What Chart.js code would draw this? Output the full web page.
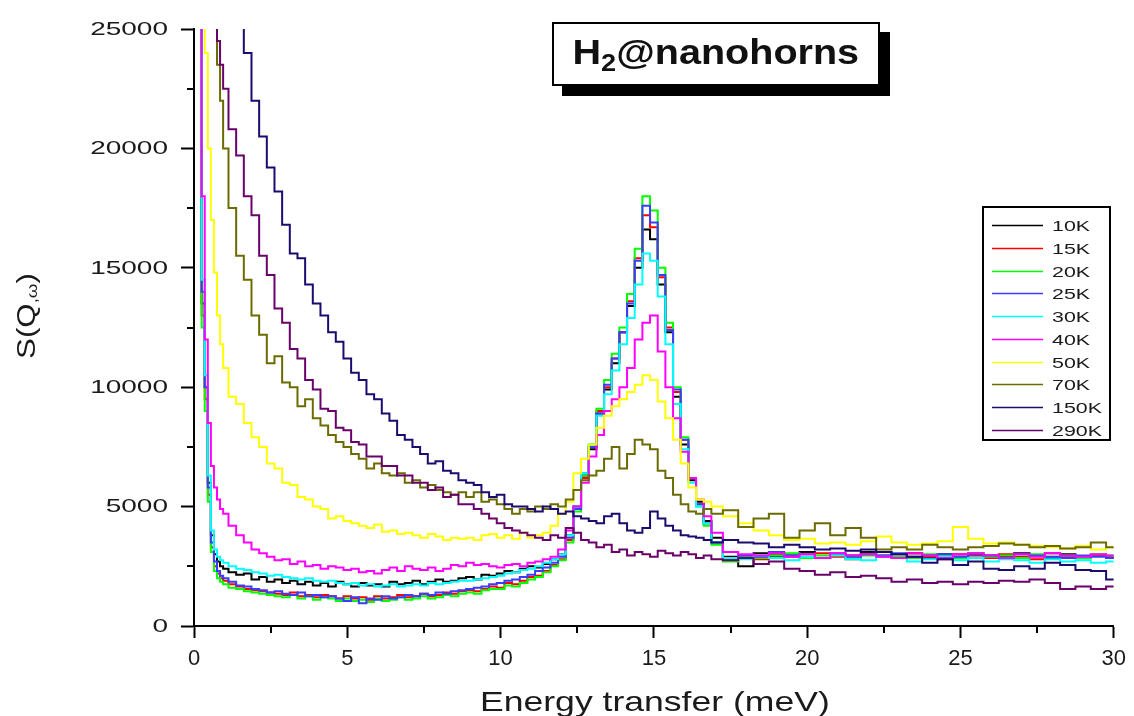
<!DOCTYPE html>
<html>
<head>
<meta charset="utf-8">
<script src="https://cdn.jsdelivr.net/npm/chart.js@4"></script>
<style>
  html, body { margin: 0; padding: 0; background: #fff; }
  #wrap { position: relative; width: 1134px; height: 716px; }
  #tag {
    position: absolute; left: 552px; top: 22px; width: 324px; height: 56px;
    border: 2px solid #000; background: #fff; box-shadow: 10px 10px 0 #000;
    display: flex; align-items: center; justify-content: center; padding-bottom: 4px; box-sizing: content-box;
    font: bold 35px "Liberation Sans", Arial, sans-serif; color: #111;
  }
  #tag span { display: inline-block; transform: scaleX(1.13); }
  #tag sub { font-size: 24px; vertical-align: -7px; line-height: 0; }
</style>
</head>
<body>
<div id="wrap">
  <canvas id="c" width="1134" height="716"></canvas>
  <div id="tag"><span>H<sub>2</sub>@nanohorns</span></div>
</div>
<script>
// energy transfer (meV), shared by all runs
const energy = [0.2, 0.3, 0.4, 0.5, 0.6, 0.7, 0.8, 0.9,
  1, 1.25, 1.5, 1.75, 2, 2.25, 2.5, 2.75, 3, 3.25, 3.5, 3.75, 4, 4.25, 4.5, 4.75,
  5, 5.25, 5.5, 5.75, 6, 6.25, 6.5, 6.75, 7, 7.25, 7.5, 7.75, 8, 8.25, 8.5, 8.75,
  9, 9.25, 9.5, 9.75, 10, 10.25, 10.5, 10.75, 11, 11.25, 11.5, 11.75, 12, 12.25, 12.5, 12.75,
  13, 13.25, 13.5, 13.75, 14, 14.25, 14.5, 14.75, 15, 15.25, 15.5, 15.75, 16, 16.25, 16.5, 16.75,
  17, 17.5, 18, 18.5, 19, 19.5, 20, 20.5, 21, 21.5, 22, 22.5, 23, 23.5, 24, 24.5, 25, 25.5, 26, 26.5, 27, 27.5, 28, 28.5, 29, 29.5, 30];

const s10K = [32000, 13500, 10000, 6000, 3800, 3000, 2700, 2500,
  2400, 2250, 2150, 2200, 1950, 2050, 1850, 1950, 1800, 1900, 1750, 1850, 1700, 1800, 1650, 1850,
  1750, 1650, 1800, 1700, 1750, 1650, 1850, 1750, 1800, 1900, 1750, 1850, 1950, 1850, 1900, 2000,
  2050, 1950, 2150, 2100, 2200, 2300, 2250, 2400, 2500, 2450, 2600, 2800, 3000, 3800, 5000, 6300,
  7400, 8900, 9900, 11000, 12300, 13400, 15000, 16600, 16200, 14300, 12300, 9600, 7600, 6100, 5200, 4400,
  3700, 2900, 2500, 3050, 2900, 2950, 3100, 2850, 3000, 2950, 3100, 2900, 3000, 3050, 2850, 3000, 2900, 3050, 2950, 2900, 3050, 2950, 2850, 3000, 2900, 2950, 2850];
const s15K = [32000, 13000, 9500, 5500, 3300, 2500, 2200, 2000,
  1900, 1750, 1650, 1550, 1500, 1450, 1400, 1350, 1300, 1400, 1250, 1300, 1200, 1300, 1250, 1150,
  1250, 1150, 1200, 1100, 1250, 1150, 1200, 1300, 1200, 1250, 1350, 1250, 1300, 1400, 1350, 1450,
  1500, 1450, 1550, 1650, 1600, 1800, 1750, 1900, 2050, 2100, 2300, 2550, 2800, 3600, 4900, 6200,
  7500, 9000, 10000, 11200, 12300, 13600, 15400, 17200, 16700, 14600, 12500, 9800, 7800, 6200, 5100, 4300,
  3500, 2750, 2950, 2800, 3000, 2900, 2850, 3050, 2900, 2800, 3000, 2950, 2850, 3050, 2900, 2800, 3000, 2950, 2850, 3000, 2900, 2800, 3050, 2900, 2850, 2950, 2900];
const s20K = [30000, 12500, 9000, 5200, 3100, 2300, 2000, 1850,
  1750, 1600, 1550, 1450, 1400, 1350, 1300, 1250, 1200, 1300, 1150, 1250, 1100, 1200, 1150, 1050,
  1150, 1050, 1100, 1000, 1150, 1050, 1100, 1200, 1100, 1150, 1250, 1150, 1200, 1300, 1250, 1350,
  1400, 1350, 1500, 1550, 1550, 1700, 1650, 1800, 1950, 2050, 2250, 2500, 2750, 3500, 4800, 6300,
  7600, 9100, 10300, 11400, 12500, 13900, 15800, 18000, 17400, 15000, 12700, 10000, 7900, 6200, 5000, 4200,
  3400, 2700, 2900, 2850, 2950, 3050, 2850, 2950, 3000, 2850, 2950, 3100, 2900, 2850, 3000, 2950, 2850, 3050, 2900, 2950, 2850, 3000, 2900, 2950, 2850, 3000, 2950];
const s25K = [31000, 14000, 10000, 5800, 3500, 2700, 2300, 2100,
  2000, 1850, 1700, 1650, 1550, 1500, 1400, 1450, 1350, 1300, 1400, 1250, 1300, 1200, 1250, 1150,
  1050, 1200, 950, 1150, 1100, 1250, 1150, 1200, 1300, 1250, 1350, 1300, 1400, 1350, 1450, 1500,
  1550, 1600, 1650, 1750, 1800, 1900, 1950, 2050, 2150, 2300, 2450, 2650, 2900, 3700, 4900, 6400,
  7500, 8900, 10100, 11200, 12300, 13500, 15300, 17600, 16900, 14700, 12400, 9900, 7800, 6200, 5100, 4300,
  3500, 2850, 2950, 2900, 3100, 2950, 3000, 2850, 3050, 2900, 3000, 2950, 3050, 2900, 2950, 3000, 2900, 3000, 2950, 2850, 3000, 2950, 2900, 2850, 2950, 2900, 2850];
const s30K = [33000, 14500, 10500, 6300, 4000, 3200, 2900, 2750,
  2650, 2500, 2400, 2350, 2250, 2200, 2100, 2150, 2050, 2000, 1950, 2000, 1900, 1850, 1900, 1800,
  1750, 1800, 1700, 1750, 1650, 1700, 1750, 1650, 1700, 1750, 1700, 1800, 1750, 1800, 1850, 1900,
  1900, 1950, 2000, 2050, 2100, 2200, 2250, 2350, 2400, 2500, 2650, 2800, 3000, 3800, 5000, 6400,
  7600, 8800, 9700, 10700, 11800, 12900, 14300, 15600, 15300, 13800, 11800, 9300, 7400, 6000, 5000, 4300,
  3500, 2850, 2800, 2950, 2850, 2750, 2900, 2850, 2950, 2800, 2750, 2900, 2850, 2700, 2800, 2900, 2750, 2850, 2700, 2800, 2750, 2650, 2800, 2700, 2750, 2650, 2700];
const s40K = [30000, 18000, 12000, 8500, 6700, 5800, 5300, 4900,
  4700, 4200, 3800, 3500, 3200, 3050, 2900, 2750, 2800, 2600, 2700, 2500, 2550, 2400, 2500, 2450,
  2350, 2400, 2250, 2300, 2200, 2350, 2450, 2300, 2500, 2400, 2350, 2450, 2300, 2400, 2550, 2500,
  2650, 2550, 2600, 2500, 2450, 2550, 2600, 2500, 2650, 2700, 2800, 2900, 3200, 4000, 5000, 6000,
  7100, 8000, 9000, 9500, 10000, 10800, 12000, 12700, 13000, 11500, 10000, 8700, 7300, 6200, 5300, 4600,
  3900, 3100, 3000, 2950, 3050, 2900, 3000, 2850, 3050, 2950, 3000, 2900, 2850, 3050, 2950, 2850, 3000, 3050, 2950, 2850, 3000, 2900, 3050, 2950, 2900, 3000, 2950];
const s50K = [40000, 30000, 24000, 20000, 17000, 14800, 13000, 11800,
  10800, 9600, 9300, 8500, 7900, 7500, 6800, 6600, 6000, 5900, 5400, 5300, 5000, 4900, 4500, 4600,
  4400, 4300, 4200, 4100, 4250, 3950, 4000, 3850, 3900, 3800, 3700, 3850, 3750, 3600, 3700, 3650,
  3700, 3600, 3800, 3850, 3700, 3800, 3650, 3900, 3700, 3800, 3900, 4200, 4700, 5200, 6400, 7000,
  7600, 8300, 8800, 9200, 9500, 9800, 10100, 10500, 10300, 9400, 8700, 7800, 6800, 5800, 5300, 5200,
  5000, 4600, 4300, 4000, 3800, 3600, 3650, 3450, 3500, 3400, 3550, 3750, 3500, 3400, 3450, 3550, 4150, 3650, 3450, 3500, 3400, 3350, 3300, 3250, 3350, 3200, 3300];
const s70K = [45000, 40000, 36000, 32000, 28000, 25500, 23500, 22000,
  20000, 17500, 15500, 14500, 13000, 12200, 11000, 11300, 10200, 10000, 9200, 9500, 8700, 8400, 8000, 7700,
  7500, 7200, 7000, 6600, 6800, 6400, 6300, 6400, 6000, 6100, 5800, 5900, 5700, 5600, 5500, 5600,
  5400, 5600, 5200, 5300, 5100, 4900, 4700, 4900, 4800, 5000, 4900, 5100, 5000, 5300, 5700, 6100,
  6300, 6500, 7000, 7500, 6600, 7200, 7800, 7600, 7400, 6500, 6200, 5500, 5100, 4800, 4700, 4900,
  4700, 4850, 4150, 4500, 4700, 3700, 4000, 4300, 3800, 4100, 3700, 3200, 3300, 3200, 3400, 3300, 3200, 3300, 3350, 3450, 3400, 3300, 3350, 3250, 3300, 3500, 3300];
const s150K = [60000, 55000, 50000, 45000, 40000, 36000, 33000, 30000,
  27500, 26000, 25800, 24000, 22000, 20500, 19200, 18200, 16800, 15600, 15400, 14300, 13500, 13000, 12300, 11900,
  11200, 10600, 10300, 9700, 9500, 8900, 8600, 8000, 7800, 7500, 7200, 6800, 6900, 6500, 6400, 6100,
  6000, 5900, 5600, 5400, 5500, 5100, 5000, 5000, 4900, 4800, 5000, 4900, 4700, 4800, 4600, 4500,
  4400, 4300, 4600, 4700, 4300, 4000, 3900, 4100, 4800, 4500, 4200, 4000, 3800, 3750, 3700, 3600,
  3500, 3600, 3500, 3450, 3300, 3400, 3300, 3200, 3250, 3150, 3200, 3100, 3000, 2900, 2650, 2800, 2550, 2700, 2400, 2350, 2500, 2400, 2650, 2550, 2350, 2300, 1950];
const s290K = [50000, 45000, 40000, 30000, 26000, 25500, 24500, 23500,
  22500, 20800, 19700, 18000, 17200, 15500, 14700, 13300, 12700, 11600, 11200, 10300, 9900, 9100, 9000, 8300,
  8200, 7700, 7600, 7100, 7100, 6700, 6700, 6300, 6300, 6000, 6000, 5700, 5800, 5400, 5500, 5100,
  5100, 4900, 4700, 4500, 4300, 4100, 4000, 3900, 3800, 3700, 3600, 3800, 3700, 4100, 3900, 3600,
  3500, 3300, 3400, 3100, 3200, 2950, 3100, 3000, 2900, 3150, 3050, 2950, 3100, 3000, 2850, 2950,
  2800, 2750, 2850, 2600, 2700, 2400, 2300, 2150, 2250, 2050, 2100, 2000, 1850, 1950, 1800, 1850, 1750, 1850, 1800, 1900, 1850, 1950, 1800, 1550, 1650, 1550, 1650];

const runLabels = ['10K', '15K', '20K', '25K', '30K', '40K', '50K', '70K', '150K', '290K'];
const runValues = [s10K, s15K, s20K, s25K, s30K, s40K, s50K, s70K, s150K, s290K];
const runColors = ['#000000', '#ff0000', '#00ff00', '#3c3cff', '#00ffff', '#ff00ff', '#ffff00', '#6b6b00', '#1c0a6e', '#6a006a'];

const yMinor = [2500, 7500, 12500, 17500, 22500];
const xMinor = [2.5, 7.5, 12.5, 17.5, 22.5, 27.5];

const datasets = runValues.map((vals, i) => ({
  label: runLabels[i],
  data: energy.map((e, k) => ({ x: e, y: vals[k] })),
  borderColor: runColors[i],
  backgroundColor: runColors[i],
  borderWidth: 2,
  pointRadius: 0,
  stepped: 'middle',
  order: runValues.length - 1 - i
}));

function stretchedText(ctx, text, x, y, sx, font, align, baseline) {
  ctx.save();
  ctx.translate(x, y);
  ctx.scale(sx, 1);
  ctx.font = font;
  ctx.textAlign = align;
  ctx.textBaseline = baseline;
  ctx.fillText(text, 0, 0);
  ctx.restore();
}

const extras = {
  id: 'extras',
  afterDraw(chart) {
    const ctx = chart.ctx, xs = chart.scales.x, ys = chart.scales.y, area = chart.chartArea;
    ctx.save();
    // minor ticks
    ctx.strokeStyle = '#000';
    ctx.lineWidth = 2;
    ctx.beginPath();
    yMinor.forEach(v => {
      const p = Math.round(ys.getPixelForValue(v));
      ctx.moveTo(area.left - 7, p); ctx.lineTo(area.left, p);
    });
    xMinor.forEach(v => {
      const p = Math.round(xs.getPixelForValue(v));
      ctx.moveTo(p, area.bottom); ctx.lineTo(p, area.bottom + 7);
    });
    ctx.stroke();

    // y tick labels (wide face as in the original)
    ctx.fillStyle = '#1a1a1a';
    ys.ticks.forEach(t => {
      stretchedText(ctx, String(t.value), area.left - 26, ys.getPixelForValue(t.value) + 1, 1.6,
        '17.5px "Liberation Sans", Arial, sans-serif', 'right', 'middle');
    });

    // x title
    stretchedText(ctx, 'Energy transfer (meV)', (area.left + area.right) / 2 + 1, 711, 1.27,
      '28px "Liberation Sans", Arial, sans-serif', 'center', 'alphabetic');

    // y title S(Q,ω) with subscript
    ctx.save();
    ctx.translate(28, 316);
    ctx.rotate(-Math.PI / 2);
    ctx.scale(1.25, 1);
    const big = '25px "Liberation Sans", Arial, sans-serif';
    const small = '15px "Liberation Sans", Arial, sans-serif';
    ctx.textBaseline = 'middle';
    ctx.textAlign = 'left';
    ctx.font = big; const w1 = ctx.measureText('S(Q').width, w3 = ctx.measureText(')').width;
    ctx.font = small; const w2 = ctx.measureText(',ω').width;
    let x0 = -(w1 + w2 + w3) / 2;
    ctx.font = big; ctx.fillText('S(Q', x0, 0);
    ctx.font = small; ctx.fillText(',ω', x0 + w1, 5);
    ctx.font = big; ctx.fillText(')', x0 + w1 + w2, 0);
    ctx.restore();

    // legend box
    ctx.fillStyle = '#fff';
    ctx.fillRect(983, 207, 127, 233);
    ctx.strokeStyle = '#000';
    ctx.lineWidth = 2;
    ctx.strokeRect(983, 207, 127, 233);
    chart.data.datasets.forEach((ds, i) => {
      const y = Math.round(225 + i * 22.78) + 0.5;
      ctx.strokeStyle = ds.borderColor;
      ctx.lineWidth = 1.5;
      ctx.beginPath(); ctx.moveTo(992, y); ctx.lineTo(1043, y); ctx.stroke();
      ctx.fillStyle = '#1a1a1a';
      stretchedText(ctx, ds.label, 1052, y + 1, 1.38, '15.5px "Liberation Sans", Arial, sans-serif', 'left', 'middle');
    });
    ctx.restore();
  }
};

const chart = new Chart(document.getElementById('c'), {
  type: 'line',
  data: { datasets },
  options: {
    responsive: false,
    animation: false,
    devicePixelRatio: 1,
    layout: { padding: { left: 0, right: 18, top: 29, bottom: 0 } },
    plugins: { legend: { display: false }, tooltip: { enabled: false } },
    scales: {
      x: {
        type: 'linear', min: 0, max: 30,
        ticks: { stepSize: 5, color: '#1a1a1a', padding: 8, font: { family: '"Liberation Sans", Arial, sans-serif', size: 22 } },
        grid: { drawOnChartArea: false, tickLength: 12, tickWidth: 2, tickColor: '#000' },
        border: { color: '#000', width: 2 },
        afterFit: s => { s.height = 90; }
      },
      y: {
        min: 0, max: 25000,
        ticks: { stepSize: 5000, display: false },
        grid: { drawOnChartArea: false, tickLength: 13, tickWidth: 2, tickColor: '#000' },
        border: { color: '#000', width: 2 },
        afterFit: s => { s.width = 194; }
      }
    }
  },
  plugins: [extras]
});
</script>
</body>
</html>
